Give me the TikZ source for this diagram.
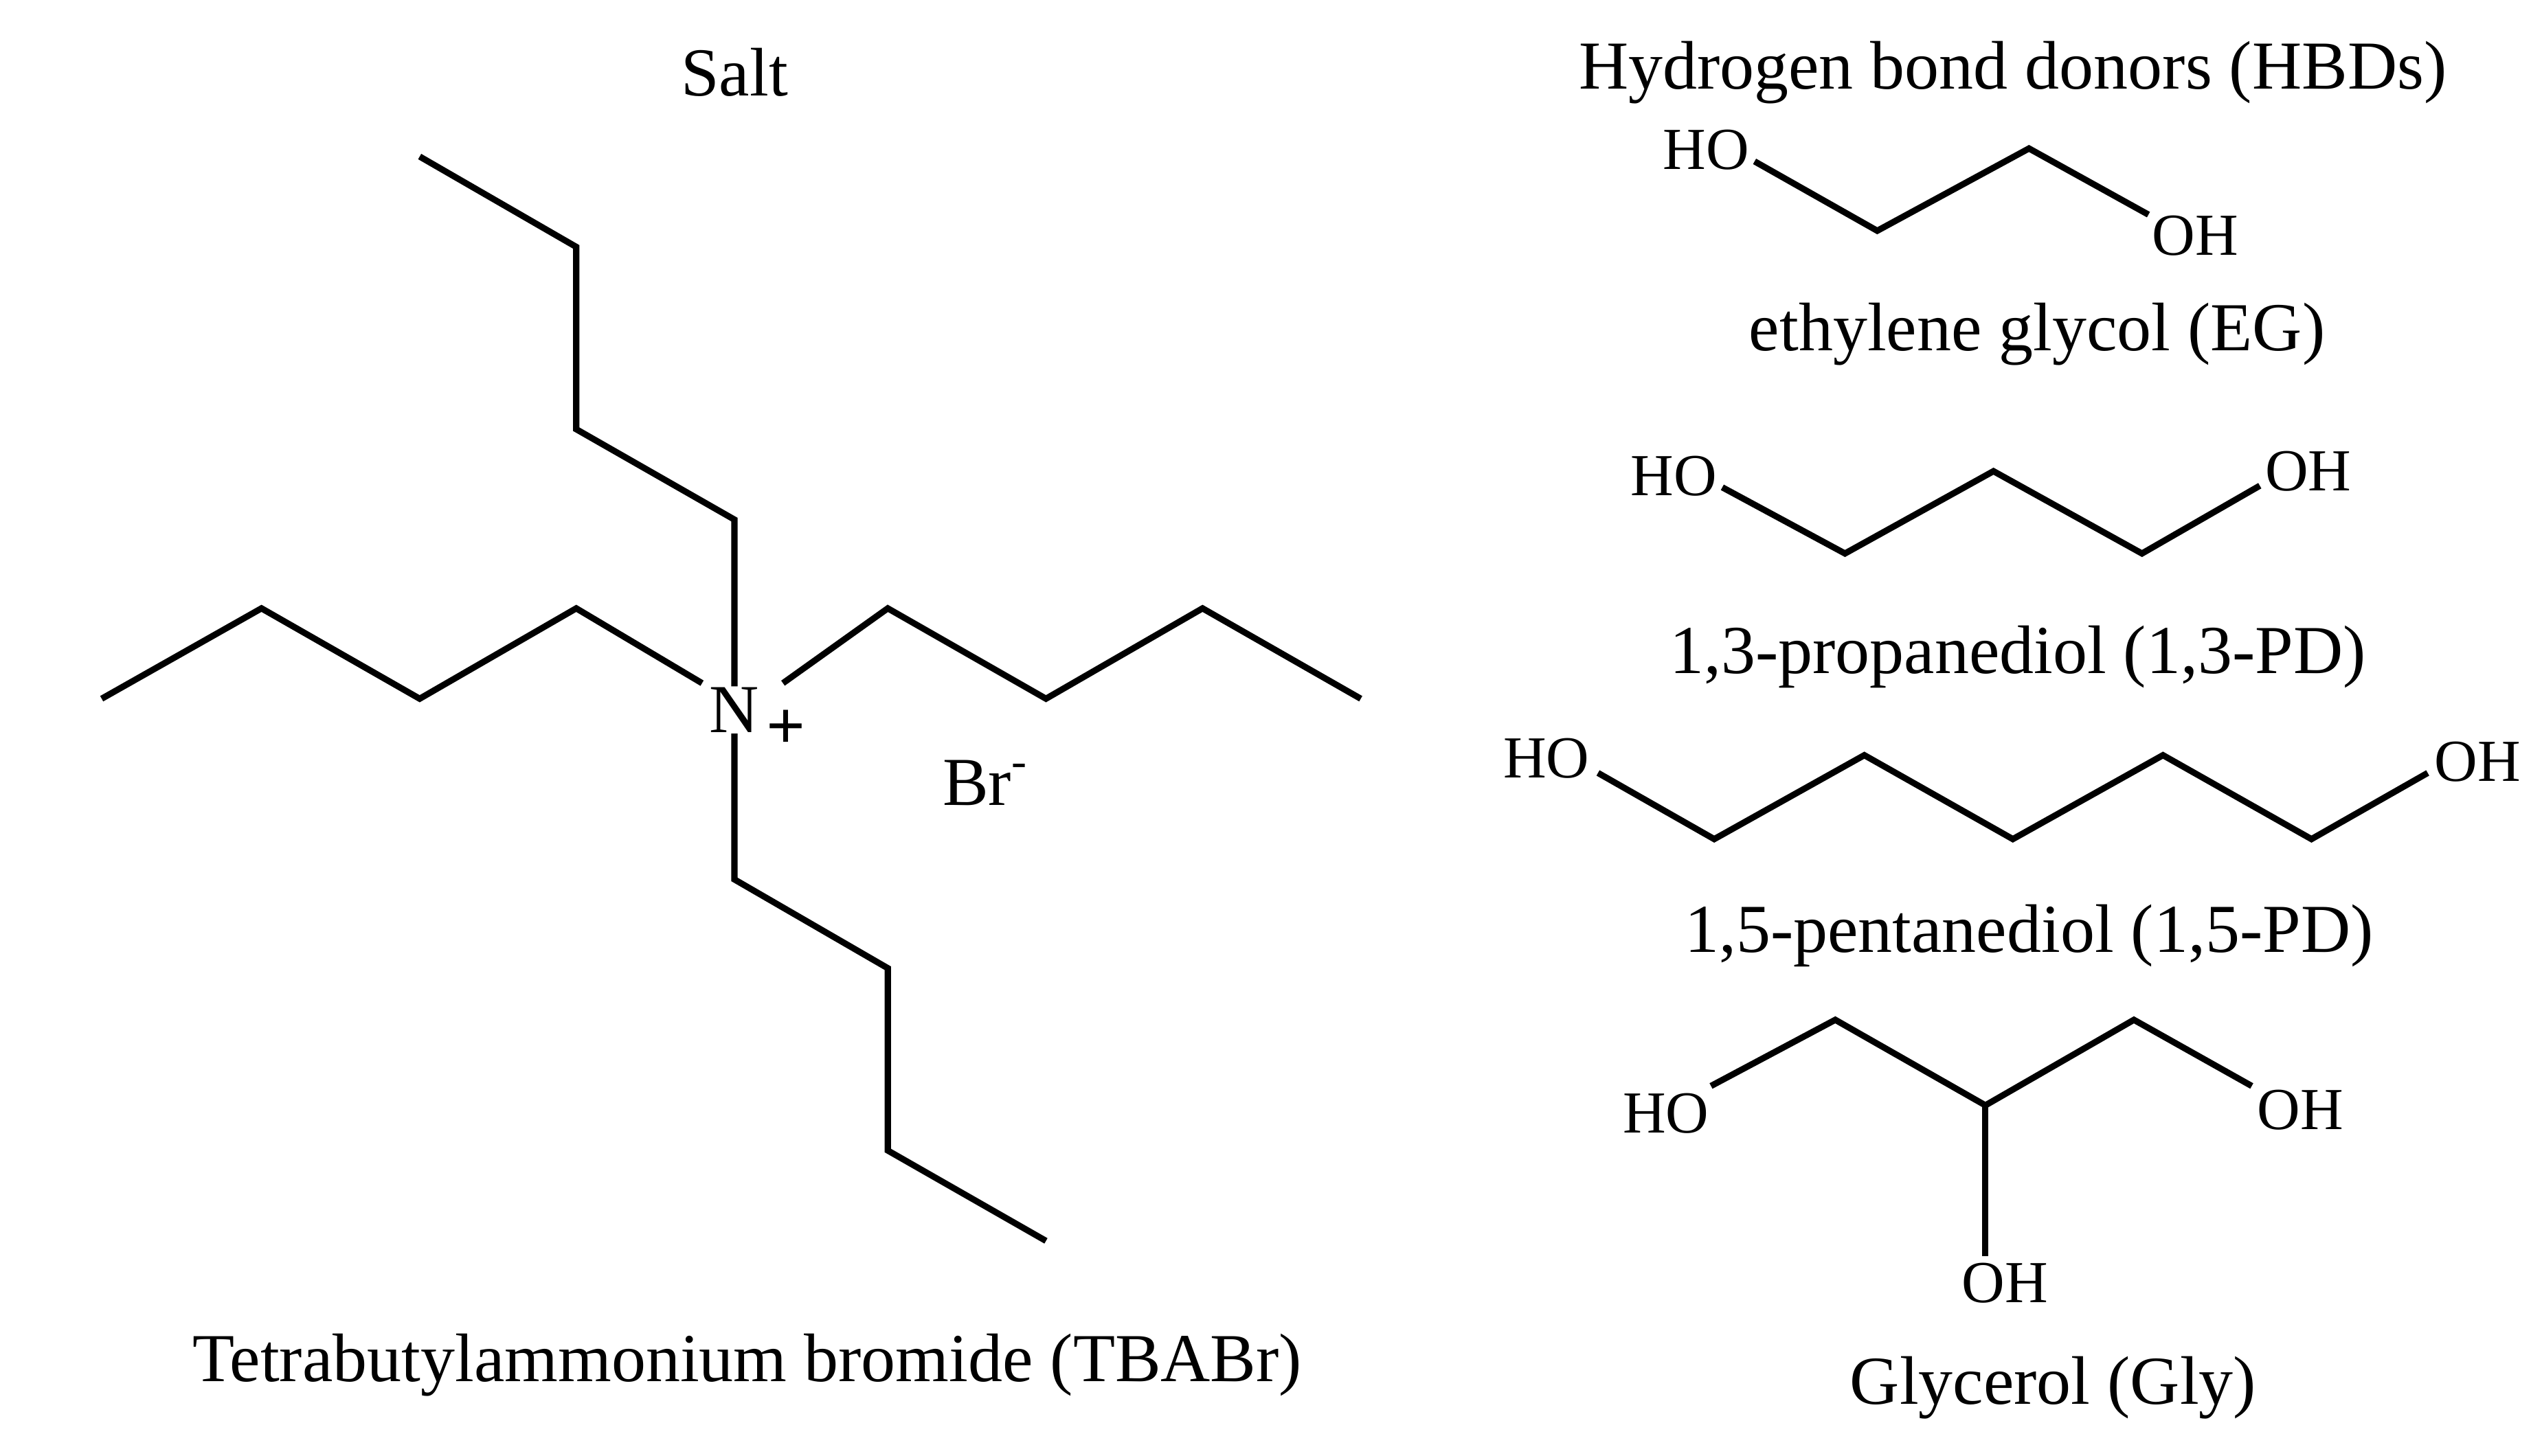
\documentclass[tikz,border=0pt]{standalone}
\usepackage{fontspec}
\setmainfont{Liberation Serif}
\begin{document}
\begin{tikzpicture}[x=0.01cm,y=-0.01cm,
  bond/.style={line width=1.1pt,line join=miter},
  big/.style={font=\fontsize{12.1}{14}\selectfont,inner sep=0pt},
  atom/.style={font=\fontsize{10.5}{12}\selectfont,inner sep=1pt}]
\useasboundingbox (0,0) rectangle (1568,902);
% salt
\node[big] (salt) at (455,45) {Salt};
\node[big] (N) at (455,440) {N};
\node[big] (plus) at (487,452) {\textbf{+}};
\node[big] (br) at (610,485) {Br\raisebox{0.9ex}{\fontsize{8}{9}\selectfont -}};
\node[big] (tbabr) at (463,846) {Tetrabutylammonium bromide (TBABr)};
\draw[bond] (N.north) -- (455,322) -- (357,266) -- (357,153) -- (260,97);
\draw[bond] (N.north west) ++(-4,-2) coordinate (nl) -- (357,377) -- (260,433) -- (162,377) -- (63,433);
\draw[bond] (N.north east) ++(14,-2) coordinate (nr) -- (550,377) -- (648,433) -- (745,377) -- (843,433);
\draw[bond] (N.south) -- (455,545) -- (550,600) -- (550,713) -- (648,769);
% HBDs
\node[big] (hbd) at (1247,45) {Hydrogen bond donors (HBDs)};
% EG
\node[atom] (eg1) at (1057,93) {HO};
\node[atom] (eg2) at (1360,146) {OH};
\draw[bond] (1087,100) -- (1163,143) -- (1257,92) -- (1331,133);
\node[big] (eg) at (1262,207) {ethylene glycol (EG)};
% 1,3-PD
\node[atom] (p1) at (1037,295) {HO};
\node[atom] (p2) at (1430,292) {OH};
\draw[bond] (1067,302) -- (1143,343) -- (1235,292) -- (1327,343) -- (1400,301);
\node[big] (pd13) at (1250,407) {1,3-propanediol (1,3-PD)};
% 1,5-PD
\node[atom] (q1) at (958,470) {HO};
\node[atom] (q2) at (1535,472) {OH};
\draw[bond] (990,479) -- (1062,520) -- (1155,468) -- (1247,520) -- (1340,468) -- (1432,520) -- (1504,479);
\node[big] (pd15) at (1257,580) {1,5-pentanediol (1,5-PD)};
% Glycerol
\node[atom] (g1) at (1032,690) {HO};
\node[atom] (g2) at (1425,688) {OH};
\node[atom] (g3) at (1242,795) {OH};
\draw[bond] (1060,673) -- (1137,632) -- (1230,685) -- (1322,632) -- (1395,673);
\draw[bond] (1230,685) -- (g3.north -| 1230,0);
\node[big] (gly) at (1272,860) {Glycerol (Gly)};
\end{tikzpicture}
\end{document}
